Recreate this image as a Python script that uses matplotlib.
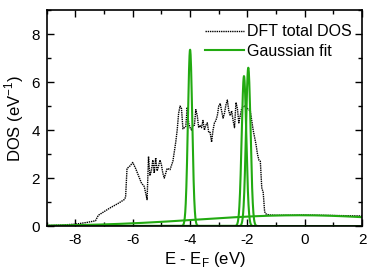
import numpy as np
import matplotlib
matplotlib.use("Agg")
import matplotlib.pyplot as plt
from matplotlib.ticker import MultipleLocator

plt.rcParams["font.family"] = ["Liberation Sans", "DejaVu Sans"]
plt.rcParams["axes.unicode_minus"] = False

# DFT total DOS (energy in eV, DOS in 1/eV)
dft_energy = [-9.0, -8.5, -8.0, -7.6, -7.3, -7.2, -7.0, -6.8, -6.5, -6.3, -6.25,
              -6.2, -6.1, -6.0, -5.9, -5.8, -5.7, -5.6, -5.5, -5.45, -5.4, -5.35,
              -5.3, -5.25, -5.2, -5.15, -5.1, -5.05, -5.0, -4.95, -4.9, -4.8,
              -4.7, -4.6, -4.5, -4.45, -4.4, -4.35, -4.3, -4.25, -4.2, -4.15,
              -4.1, -4.05, -4.0, -3.95, -3.9, -3.85, -3.8, -3.75, -3.7, -3.65,
              -3.6, -3.55, -3.5, -3.45, -3.4, -3.35, -3.3, -3.25, -3.2, -3.15,
              -3.1, -3.05, -3.0, -2.95, -2.9, -2.85, -2.8, -2.75, -2.7, -2.65,
              -2.6, -2.55, -2.5, -2.45, -2.4, -2.35, -2.3, -2.25, -2.2, -2.1,
              -2.0, -1.9, -1.85, -1.8, -1.75, -1.7, -1.65, -1.6, -1.55, -1.5,
              -1.45, -1.4, -1.35, -1.3, -1.2, -1.0, -0.5, 0.0, 0.5, 1.0, 1.5, 2.0]
dft_dos = [0.02, 0.04, 0.08, 0.15, 0.22, 0.45, 0.6, 0.75, 0.95, 1.1, 1.2,
           2.4, 2.5, 2.65, 2.4, 2.1, 1.8, 1.65, 1.1, 2.9, 2.1, 2.3,
           2.75, 2.2, 2.85, 2.3, 2.5, 2.75, 2.55, 2.2, 2.0, 2.4,
           2.35, 2.7, 3.5, 4.0, 4.7, 5.0, 4.9, 4.05, 4.1, 4.15,
           4.95, 4.3, 4.1, 4.0, 4.2, 4.2, 4.85, 4.6, 4.1, 4.2,
           4.1, 4.4, 4.0, 4.2, 4.3, 3.9, 3.9, 3.5, 4.0, 4.3,
           4.4, 4.6, 5.0, 5.1, 4.8, 4.5, 4.7, 5.05, 5.25, 4.8,
           4.6, 4.8, 4.4, 4.1, 5.15, 4.9, 4.3, 4.6, 4.9, 5.0,
           4.9, 4.8, 4.4, 4.0, 3.7, 3.4, 3.0, 2.75, 2.7, 1.6,
           1.4, 0.6, 0.5, 0.48, 0.46, 0.45, 0.45, 0.46, 0.45, 0.44, 0.43, 0.42]

# Gaussian fit components: centre (eV), height (1/eV), width sigma (eV)
gauss_centres = [-4.0, -2.12, -1.97, -0.2]
gauss_heights = [7.35, 6.25, 6.6, 0.45]
gauss_sigmas = [0.075, 0.08, 0.08, 3.5]

fig = plt.figure(figsize=(3.71, 2.73), dpi=100)
ax = fig.add_axes([0.126, 0.172, 0.85, 0.791])

ax.plot(dft_energy, dft_dos, color="black", linestyle=(0, (1, 0.6)), linewidth=1.0,
        label="DFT total DOS")

e = np.linspace(-9, 2, 2000)
for i, (c, h, s) in enumerate(zip(gauss_centres, gauss_heights, gauss_sigmas)):
    ax.plot(e, h * np.exp(-(e - c) ** 2 / (2 * s ** 2)), color="#22aa11", linewidth=1.5,
            label="Gaussian fit" if i == 0 else None)

ax.set_xlim(-9, 2)
ax.set_ylim(0, 9)
ax.xaxis.set_major_locator(MultipleLocator(2))
ax.xaxis.set_minor_locator(MultipleLocator(1))
ax.yaxis.set_major_locator(MultipleLocator(2))
ax.yaxis.set_minor_locator(MultipleLocator(1))
ax.tick_params(which="both", direction="in", top=True, right=True, labelsize=11, width=1.0)
ax.tick_params(which="major", length=5, pad=5)
ax.tick_params(which="minor", length=3)
for sp in ax.spines.values():
    sp.set_linewidth(1.2)

ax.set_xlabel(r"E - E$_\mathregular{F}$ (eV)", fontsize=12, labelpad=2)
ax.set_ylabel(r"DOS (eV$^\mathregular{-1}$)", fontsize=12, labelpad=4)

ax.legend(loc="upper right", bbox_to_anchor=(0.968, 0.935), frameon=False,
          fontsize=11.5, handlelength=2.45, handletextpad=0.2, borderpad=0,
          borderaxespad=0, labelspacing=0.3)

fig.savefig("out.png", dpi=100)
